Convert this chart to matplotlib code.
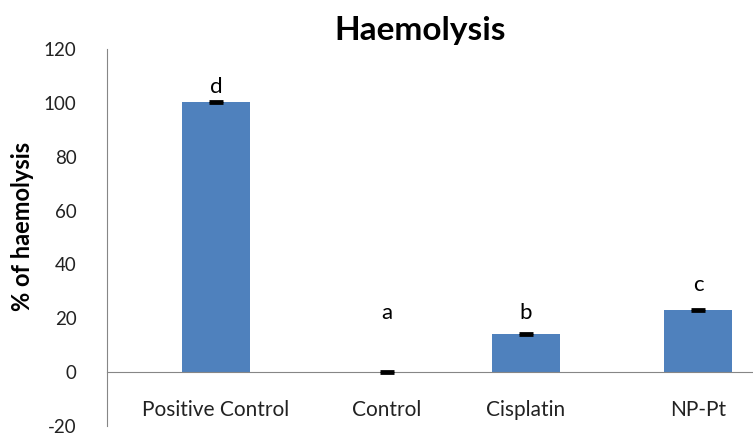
import numpy as np
from matplotlib import pyplot as plt

plt.rcParams['font.family'] = ['Lato', 'DejaVu Sans']
plt.rcParams['axes.unicode_minus'] = False

################################################################################ data
groups      = ['Positive Control', 'Control', 'Cisplatin', 'NP-Pt']
haemolysis  = [100.3, 0.0, 14.3, 23.2]
errors      = [0.5, 0.4, 0.4, 0.4]
letters     = ['d', 'a', 'b', 'c']
letter_y    = [106, 22, 22, 32.5]

# category centres in the source picture are not evenly spaced
xpos = np.array([0.0, 1.0, 1.813, 2.819])

################################################################################ plot
fig = plt.figure(figsize=(7.53, 4.38), dpi=100)
ax = fig.add_axes([107/753, 12/438, 1 - 107/753, (426-49)/438])

ax.bar(xpos, haemolysis, width=0.40, color='#4F81BD', linewidth=0, zorder=2)
ax.errorbar(xpos, haemolysis, yerr=errors, fmt='none', ecolor='black', elinewidth=1.5,
            capsize=5, capthick=2, zorder=3)

for x, l, y in zip(xpos, letters, letter_y):
    ax.text(x, y, l, ha='center', va='center', fontsize=16, color='black')

ax.set_ylim(-20, 120)
ax.set_xlim(-0.637, 3.14)
ax.set_yticks(np.arange(-20, 121, 20))
ax.tick_params(axis='y', length=0, labelsize=13.5, pad=22, colors='#222222')

ax.set_xticks(xpos)
ax.set_xticklabels(groups)
ax.tick_params(axis='x', length=0, labelsize=15, pad=20, colors='#222222')

ax.spines['top'].set_visible(False)
ax.spines['right'].set_visible(False)
ax.spines['bottom'].set_position(('data', 0))
ax.spines['bottom'].set_color('#868686')
ax.spines['left'].set_color('#868686')

ax.set_ylabel('% of haemolysis', fontsize=17, fontweight='bold')
ax.yaxis.set_label_coords(-0.113, 0.53)
fig.text(0.558, 0.93, 'Haemolysis', ha='center', va='center', fontsize=24, fontweight='bold')

plt.savefig('out.png', dpi=100)
